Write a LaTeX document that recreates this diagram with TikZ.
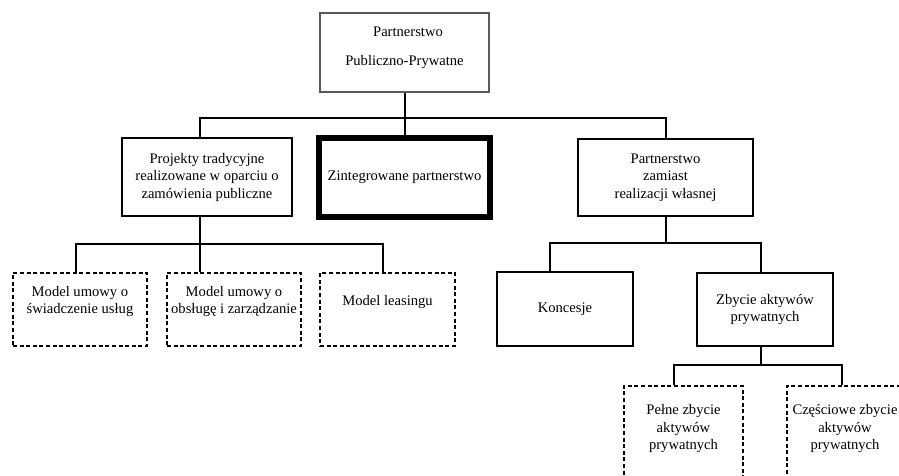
\documentclass[tikz,border=0pt]{standalone}
\usepackage{fontspec}
\setmainfont{Liberation Serif}
\definecolor{ppgray}{RGB}{90,90,90}
\begin{document}
\begin{tikzpicture}[x=1pt,y=-1pt,
  box/.style={draw, line width=2pt, align=center, inner sep=0pt, font=\fontsize{14.6}{17.5}\selectfont},
  dbox/.style={box, dash pattern=on 4pt off 2.6pt},
  link/.style={line width=2pt}]
\clip (0,0) rectangle (899,475);
\fill[white] (0,0) rectangle (899,475);
% top
\node[box, draw=ppgray, line width=2.2pt, minimum width=169pt, minimum height=79pt] (ppp) at (404.5,52.5){\hspace*{7pt}Partnerstwo\\[11.5pt]Publiczno-Prywatne\hspace*{15pt}\\[-4pt]\mbox{}};
% second level
\node[box, minimum width=170pt, minimum height=78pt] (trad) at (207,177){Projekty tradycyjne\\realizowane w oparciu o\\zamówienia publiczne};
\node[box, line width=6pt, minimum width=171pt, minimum height=79pt] (zint) at (404.5,177.5){Zintegrowane partnerstwo};
\node[box, minimum width=175pt, minimum height=77pt] (zam) at (665.5,177.5){Partnerstwo\\zamiast\\realizacji własnej};
\draw[link] (ppp.south) -- (zint.north);
\draw[link] ([xshift=-7pt]trad.north) -- ++(0,-19) -| (zam.north);
% traditional models
\node[dbox, minimum width=134pt, minimum height=73pt] (mus) at (80,309.5){Model umowy o\\świadczenie usług\\[1.5pt]\mbox{}};
\node[dbox, minimum width=134pt, minimum height=73pt] (mobs) at (234,309.5){Model umowy o\\obsługę i zarządzanie\\[1.5pt]\mbox{}};
\node[dbox, minimum width=135pt, minimum height=73pt] (mlea) at (387.5,309.5){Model leasingu\\[1.5pt]\mbox{}};
\coordinate (tb) at ([xshift=-7pt]trad.south);
\draw[link] (tb) -- (tb |- mobs.north);
\draw[link] ([xshift=-4pt]mus.north) -- ++(0,-28) -| ([xshift=-4.5pt]mlea.north);
% partnership instead of own realisation
\node[box, minimum width=136pt, minimum height=74pt] (konc) at (565,309){Koncesje};
\node[box, minimum width=136pt, minimum height=73pt] (zbyc) at (765,309.5){Zbycie aktywów\\prywatnych};
\draw[link] (zam.south) -- ++(0,27);
\draw[link] ([xshift=-15pt]konc.north) -- ++(0,-28) -| ([xshift=-4pt]zbyc.north);
% divestment
\node[dbox, minimum width=119pt, minimum height=113pt] (pelne) at (683.5,442.5){Pełne zbycie\\aktywów\\prywatnych\\[13pt]\mbox{}};
\node[dbox, minimum width=116pt, minimum height=113pt] (czes) at (845,442.5){Częściowe zbycie\\aktywów\\prywatnych\\[13pt]\mbox{}};
\draw[link] ([xshift=-4pt]zbyc.south) -- ++(0,18);
\draw[link] ([xshift=-9.5pt]pelne.north) -- ++(0,-20) -| ([xshift=-3pt]czes.north);
\end{tikzpicture}
\end{document}
